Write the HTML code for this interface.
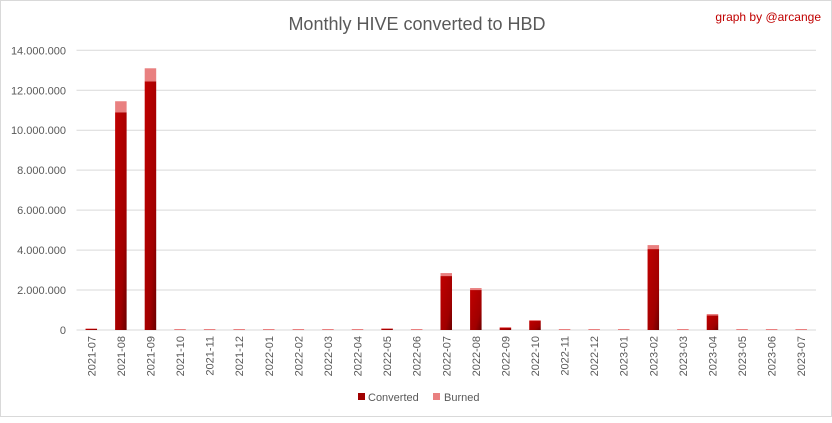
<!DOCTYPE html>
<html><head><meta charset="utf-8"><style>
body{margin:0;background:#fff;font-family:"Liberation Sans",sans-serif}
#wrap{position:relative;width:832px;height:417px;border:1px solid #d9d9d9;box-sizing:border-box}
</style></head><body>
<div id="wrap">
<svg id="chart" width="832" height="417"></svg>
</div>
<script>
const categories=["2021-07","2021-08","2021-09","2021-10","2021-11","2021-12","2022-01","2022-02","2022-03","2022-04","2022-05","2022-06","2022-07","2022-08","2022-09","2022-10","2022-11","2022-12","2023-01","2023-02","2023-03","2023-04","2023-05","2023-06","2023-07"];
const converted=[50000,10900000,12450000,0,0,0,0,0,0,0,60000,0,2700000,2000000,100000,450000,0,0,0,4050000,0,730000,0,0,0];
const burned=[30000,550000,650000,50000,50000,50000,50000,50000,50000,50000,30000,50000,150000,100000,50000,50000,50000,50000,50000,200000,50000,70000,50000,50000,50000];
const yTicks=[0,2000000,4000000,6000000,8000000,10000000,12000000,14000000];
const tickLabels=["0","2.000.000","4.000.000","6.000.000","8.000.000","10.000.000","12.000.000","14.000.000"];
const svg=document.getElementById('chart');const NS="http://www.w3.org/2000/svg";
const x0=75.5,x1=815,y0=329,yTop=49.3,yMax=14000000;
const bw=(x1-x0)/categories.length;
const y=v=>y0-(v/yMax)*(y0-yTop);
const xc=i=>x0+bw*(i+0.5);
function mk(t,a){const e=document.createElementNS(NS,t);for(const k in a)e.setAttribute(k,a[k]);svg.appendChild(e);return e;}
const defs=document.createElementNS(NS,'defs');defs.innerHTML='<linearGradient id="g" x1="0" y1="0" x2="1" y2="1"><stop offset="0" stop-color="#c00000"/><stop offset="0.7" stop-color="#a00000"/><stop offset="1" stop-color="#6a0000"/></linearGradient>';svg.appendChild(defs);
let t=mk('text',{x:416,y:29,'text-anchor':'middle','font-size':18,fill:'#595959'});t.textContent="Monthly HIVE converted to HBD";


t=mk('text',{x:820,y:20,'text-anchor':'end','font-size':12,fill:'#c00000'});t.textContent="graph by @arcange";


yTicks.forEach((v,i)=>{const l=mk('line',{x1:x0,x2:x1,y1:y(v),y2:y(v),stroke:'#d9d9d9','stroke-width':1});


const tx=mk('text',{x:65,y:y(v)+4,'text-anchor':'end','font-size':11,fill:'#595959'});tx.textContent=tickLabels[i];

});
categories.forEach((c,i)=>{const bx=xc(i)-5.75;
if(converted[i]>0){const r=mk('rect',{x:bx,y:y(converted[i]),width:11.5,height:y0-y(converted[i]),fill:'url(#g)'});

}
const tot=converted[i]+burned[i];
const r2=mk('rect',{x:bx,y:y(tot),width:11.5,height:Math.max(y(converted[i])-y(tot),0),fill:'#e98080'});


const tx=mk('text',{x:0,y:0,'text-anchor':'end','font-size':11,fill:'#595959',transform:`translate(${xc(i)+4},${335}) rotate(-90)`});tx.textContent=c;

});
mk('rect',{x:357,y:392,width:7,height:7,fill:'#a00000'});
t=mk('text',{x:367,y:400,'font-size':11,fill:'#595959'});t.textContent="Converted";


mk('rect',{x:432,y:392,width:7,height:7,fill:'#e98080'});
t=mk('text',{x:443,y:400,'font-size':11,fill:'#595959'});t.textContent="Burned";


</script>
</body></html>
